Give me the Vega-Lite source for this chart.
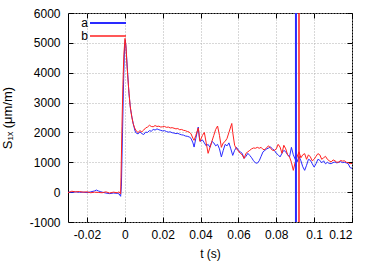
{
  "$schema": "https://vega.github.io/schema/vega-lite/v6.json",
  "width": 284,
  "height": 209,
  "autosize": {"type": "none"},
  "padding": {"left": 68, "top": 13, "right": 22, "bottom": 40},
  "config": {
    "font": "Liberation Sans",
    "view": {"stroke": "#000000", "strokeWidth": 1},
    "axis": {"labelFont": "Liberation Sans", "titleFont": "Liberation Sans", "labelFontSize": 12, "titleFontSize": 12, "labelColor": "#000", "titleColor": "#000", "titleFontWeight": "normal", "domain": false, "tickColor": "#000", "tickSize": -5, "gridColor": "#b0b0b0", "gridDash": [1, 2]},
    "legend": {"labelFont": "Liberation Sans", "labelFontSize": 12, "labelColor": "#000"}
  },
  "datasets": {
    "s": [
      {"t":-0.030,"v":0,"k":"a"},{"t":-0.028,"v":-10,"k":"a"},{"t":-0.026,"v":10,"k":"a"},{"t":-0.024,"v":-5,"k":"a"},{"t":-0.022,"v":0,"k":"a"},{"t":-0.020,"v":-15,"k":"a"},{"t":-0.018,"v":10,"k":"a"},{"t":-0.016,"v":40,"k":"a"},{"t":-0.015,"v":70,"k":"a"},{"t":-0.014,"v":40,"k":"a"},{"t":-0.013,"v":20,"k":"a"},{"t":-0.012,"v":0,"k":"a"},{"t":-0.010,"v":-30,"k":"a"},{"t":-0.008,"v":-50,"k":"a"},{"t":-0.006,"v":-30,"k":"a"},{"t":-0.004,"v":-40,"k":"a"},{"t":-0.003,"v":-60,"k":"a"},{"t":-0.0022,"v":-140,"k":"a"},{"t":-0.0018,"v":200,"k":"a"},{"t":-0.0012,"v":2000,"k":"a"},{"t":-0.0006,"v":3800,"k":"a"},{"t":-0.0001,"v":4900,"k":"a"},{"t":0.0003,"v":5100,"k":"a"},{"t":0.0008,"v":4700,"k":"a"},{"t":0.0015,"v":4000,"k":"a"},{"t":0.0022,"v":3300,"k":"a"},{"t":0.003,"v":2800,"k":"a"},{"t":0.0038,"v":2500,"k":"a"},{"t":0.0046,"v":2250,"k":"a"},{"t":0.0054,"v":2050,"k":"a"},{"t":0.006,"v":1980,"k":"a"},{"t":0.007,"v":1950,"k":"a"},{"t":0.008,"v":2020,"k":"a"},{"t":0.009,"v":1960,"k":"a"},{"t":0.010,"v":1930,"k":"a"},{"t":0.011,"v":2010,"k":"a"},{"t":0.012,"v":2000,"k":"a"},{"t":0.013,"v":2060,"k":"a"},{"t":0.014,"v":2040,"k":"a"},{"t":0.015,"v":2100,"k":"a"},{"t":0.016,"v":2080,"k":"a"},{"t":0.017,"v":2120,"k":"a"},{"t":0.018,"v":2090,"k":"a"},{"t":0.019,"v":2070,"k":"a"},{"t":0.020,"v":2050,"k":"a"},{"t":0.021,"v":2060,"k":"a"},{"t":0.022,"v":2030,"k":"a"},{"t":0.023,"v":2010,"k":"a"},{"t":0.024,"v":2020,"k":"a"},{"t":0.025,"v":1990,"k":"a"},{"t":0.026,"v":1980,"k":"a"},{"t":0.027,"v":1960,"k":"a"},{"t":0.028,"v":1970,"k":"a"},{"t":0.029,"v":1940,"k":"a"},{"t":0.030,"v":1920,"k":"a"},{"t":0.031,"v":1910,"k":"a"},{"t":0.032,"v":1880,"k":"a"},{"t":0.033,"v":1870,"k":"a"},{"t":0.034,"v":1850,"k":"a"},{"t":0.035,"v":1800,"k":"a"},{"t":0.036,"v":1650,"k":"a"},{"t":0.0366,"v":1510,"k":"a"},{"t":0.0375,"v":1800,"k":"a"},{"t":0.0388,"v":2180,"k":"a"},{"t":0.0395,"v":1750,"k":"a"},{"t":0.040,"v":1700,"k":"a"},{"t":0.041,"v":1750,"k":"a"},{"t":0.042,"v":1650,"k":"a"},{"t":0.043,"v":1550,"k":"a"},{"t":0.044,"v":1600,"k":"a"},{"t":0.045,"v":1500,"k":"a"},{"t":0.046,"v":1700,"k":"a"},{"t":0.047,"v":1650,"k":"a"},{"t":0.048,"v":1550,"k":"a"},{"t":0.049,"v":1600,"k":"a"},{"t":0.050,"v":1450,"k":"a"},{"t":0.051,"v":1180,"k":"a"},{"t":0.052,"v":1400,"k":"a"},{"t":0.053,"v":1600,"k":"a"},{"t":0.054,"v":1550,"k":"a"},{"t":0.055,"v":1650,"k":"a"},{"t":0.056,"v":1450,"k":"a"},{"t":0.057,"v":1230,"k":"a"},{"t":0.058,"v":1400,"k":"a"},{"t":0.059,"v":1500,"k":"a"},{"t":0.060,"v":1400,"k":"a"},{"t":0.061,"v":1350,"k":"a"},{"t":0.062,"v":1300,"k":"a"},{"t":0.063,"v":1130,"k":"a"},{"t":0.064,"v":1200,"k":"a"},{"t":0.065,"v":1300,"k":"a"},{"t":0.066,"v":1230,"k":"a"},{"t":0.067,"v":1150,"k":"a"},{"t":0.068,"v":1050,"k":"a"},{"t":0.069,"v":980,"k":"a"},{"t":0.070,"v":970,"k":"a"},{"t":0.071,"v":1050,"k":"a"},{"t":0.072,"v":1200,"k":"a"},{"t":0.073,"v":1350,"k":"a"},{"t":0.074,"v":1400,"k":"a"},{"t":0.075,"v":1450,"k":"a"},{"t":0.076,"v":1480,"k":"a"},{"t":0.077,"v":1510,"k":"a"},{"t":0.078,"v":1450,"k":"a"},{"t":0.079,"v":1400,"k":"a"},{"t":0.080,"v":1300,"k":"a"},{"t":0.081,"v":1250,"k":"a"},{"t":0.082,"v":1180,"k":"a"},{"t":0.083,"v":1300,"k":"a"},{"t":0.084,"v":1400,"k":"a"},{"t":0.085,"v":1350,"k":"a"},{"t":0.086,"v":1250,"k":"a"},{"t":0.087,"v":1180,"k":"a"},{"t":0.088,"v":1500,"k":"a"},{"t":0.089,"v":1250,"k":"a"},{"t":0.090,"v":1100,"k":"a"},{"t":0.091,"v":1010,"k":"a"},{"t":0.092,"v":1200,"k":"a"},{"t":0.093,"v":1050,"k":"a"},{"t":0.094,"v":850,"k":"a"},{"t":0.095,"v":730,"k":"a"},{"t":0.096,"v":900,"k":"a"},{"t":0.097,"v":1100,"k":"a"},{"t":0.098,"v":1067,"k":"a"},{"t":0.099,"v":950,"k":"a"},{"t":0.100,"v":840,"k":"a"},{"t":0.101,"v":950,"k":"a"},{"t":0.102,"v":1100,"k":"a"},{"t":0.103,"v":1067,"k":"a"},{"t":0.104,"v":980,"k":"a"},{"t":0.105,"v":1050,"k":"a"},{"t":0.106,"v":950,"k":"a"},{"t":0.107,"v":1000,"k":"a"},{"t":0.108,"v":960,"k":"a"},{"t":0.109,"v":955,"k":"a"},{"t":0.110,"v":990,"k":"a"},{"t":0.111,"v":1010,"k":"a"},{"t":0.112,"v":980,"k":"a"},{"t":0.113,"v":1000,"k":"a"},{"t":0.114,"v":1020,"k":"a"},{"t":0.115,"v":990,"k":"a"},{"t":0.116,"v":1000,"k":"a"},{"t":0.117,"v":980,"k":"a"},{"t":0.118,"v":950,"k":"a"},{"t":0.119,"v":820,"k":"a"},{"t":0.120,"v":800,"k":"a"},
      {"t":-0.030,"v":-20,"k":"b"},{"t":-0.028,"v":30,"k":"b"},{"t":-0.026,"v":10,"k":"b"},{"t":-0.024,"v":20,"k":"b"},{"t":-0.022,"v":0,"k":"b"},{"t":-0.020,"v":10,"k":"b"},{"t":-0.018,"v":-20,"k":"b"},{"t":-0.016,"v":0,"k":"b"},{"t":-0.014,"v":-10,"k":"b"},{"t":-0.012,"v":-20,"k":"b"},{"t":-0.010,"v":10,"k":"b"},{"t":-0.008,"v":-30,"k":"b"},{"t":-0.006,"v":0,"k":"b"},{"t":-0.004,"v":-20,"k":"b"},{"t":-0.003,"v":10,"k":"b"},{"t":-0.0022,"v":-60,"k":"b"},{"t":-0.002,"v":500,"k":"b"},{"t":-0.0015,"v":2200,"k":"b"},{"t":-0.001,"v":3600,"k":"b"},{"t":-0.0005,"v":4600,"k":"b"},{"t":0.0001,"v":5150,"k":"b"},{"t":0.0006,"v":4900,"k":"b"},{"t":0.0012,"v":4200,"k":"b"},{"t":0.002,"v":3500,"k":"b"},{"t":0.0028,"v":2900,"k":"b"},{"t":0.0036,"v":2550,"k":"b"},{"t":0.0044,"v":2300,"k":"b"},{"t":0.0052,"v":2150,"k":"b"},{"t":0.006,"v":2050,"k":"b"},{"t":0.007,"v":2000,"k":"b"},{"t":0.008,"v":2060,"k":"b"},{"t":0.009,"v":2020,"k":"b"},{"t":0.010,"v":2080,"k":"b"},{"t":0.011,"v":2150,"k":"b"},{"t":0.012,"v":2180,"k":"b"},{"t":0.013,"v":2240,"k":"b"},{"t":0.014,"v":2200,"k":"b"},{"t":0.015,"v":2190,"k":"b"},{"t":0.016,"v":2230,"k":"b"},{"t":0.017,"v":2200,"k":"b"},{"t":0.018,"v":2210,"k":"b"},{"t":0.019,"v":2180,"k":"b"},{"t":0.020,"v":2190,"k":"b"},{"t":0.021,"v":2200,"k":"b"},{"t":0.022,"v":2170,"k":"b"},{"t":0.023,"v":2180,"k":"b"},{"t":0.024,"v":2150,"k":"b"},{"t":0.025,"v":2160,"k":"b"},{"t":0.026,"v":2140,"k":"b"},{"t":0.027,"v":2120,"k":"b"},{"t":0.028,"v":2130,"k":"b"},{"t":0.029,"v":2090,"k":"b"},{"t":0.030,"v":2100,"k":"b"},{"t":0.031,"v":2070,"k":"b"},{"t":0.032,"v":2060,"k":"b"},{"t":0.033,"v":2030,"k":"b"},{"t":0.034,"v":2014,"k":"b"},{"t":0.035,"v":1950,"k":"b"},{"t":0.036,"v":1800,"k":"b"},{"t":0.0366,"v":1735,"k":"b"},{"t":0.0375,"v":1900,"k":"b"},{"t":0.0388,"v":2150,"k":"b"},{"t":0.0397,"v":1700,"k":"b"},{"t":0.041,"v":1900,"k":"b"},{"t":0.042,"v":2000,"k":"b"},{"t":0.043,"v":1650,"k":"b"},{"t":0.044,"v":1300,"k":"b"},{"t":0.045,"v":1500,"k":"b"},{"t":0.046,"v":1700,"k":"b"},{"t":0.047,"v":1900,"k":"b"},{"t":0.048,"v":2100,"k":"b"},{"t":0.049,"v":2215,"k":"b"},{"t":0.050,"v":1900,"k":"b"},{"t":0.051,"v":1500,"k":"b"},{"t":0.052,"v":1650,"k":"b"},{"t":0.053,"v":1700,"k":"b"},{"t":0.054,"v":1800,"k":"b"},{"t":0.055,"v":2000,"k":"b"},{"t":0.0565,"v":2300,"k":"b"},{"t":0.057,"v":2000,"k":"b"},{"t":0.058,"v":1570,"k":"b"},{"t":0.059,"v":1450,"k":"b"},{"t":0.060,"v":1380,"k":"b"},{"t":0.061,"v":1300,"k":"b"},{"t":0.062,"v":1250,"k":"b"},{"t":0.063,"v":1130,"k":"b"},{"t":0.064,"v":1300,"k":"b"},{"t":0.065,"v":1350,"k":"b"},{"t":0.066,"v":1400,"k":"b"},{"t":0.067,"v":1450,"k":"b"},{"t":0.068,"v":1480,"k":"b"},{"t":0.069,"v":1470,"k":"b"},{"t":0.070,"v":1500,"k":"b"},{"t":0.071,"v":1470,"k":"b"},{"t":0.072,"v":1500,"k":"b"},{"t":0.073,"v":1430,"k":"b"},{"t":0.074,"v":1425,"k":"b"},{"t":0.075,"v":1500,"k":"b"},{"t":0.076,"v":1550,"k":"b"},{"t":0.077,"v":1470,"k":"b"},{"t":0.078,"v":1400,"k":"b"},{"t":0.079,"v":1400,"k":"b"},{"t":0.080,"v":1450,"k":"b"},{"t":0.081,"v":1600,"k":"b"},{"t":0.082,"v":1510,"k":"b"},{"t":0.083,"v":1300,"k":"b"},{"t":0.084,"v":1570,"k":"b"},{"t":0.085,"v":1450,"k":"b"},{"t":0.086,"v":1250,"k":"b"},{"t":0.087,"v":1180,"k":"b"},{"t":0.088,"v":1000,"k":"b"},{"t":0.089,"v":730,"k":"b"},{"t":0.090,"v":1000,"k":"b"},{"t":0.091,"v":1180,"k":"b"},{"t":0.092,"v":1350,"k":"b"},{"t":0.093,"v":1150,"k":"b"},{"t":0.094,"v":1250,"k":"b"},{"t":0.095,"v":1290,"k":"b"},{"t":0.096,"v":1100,"k":"b"},{"t":0.097,"v":1250,"k":"b"},{"t":0.098,"v":1180,"k":"b"},{"t":0.099,"v":1050,"k":"b"},{"t":0.100,"v":1100,"k":"b"},{"t":0.101,"v":1200,"k":"b"},{"t":0.102,"v":1290,"k":"b"},{"t":0.103,"v":1250,"k":"b"},{"t":0.104,"v":1100,"k":"b"},{"t":0.105,"v":1150,"k":"b"},{"t":0.106,"v":1200,"k":"b"},{"t":0.107,"v":1100,"k":"b"},{"t":0.108,"v":1050,"k":"b"},{"t":0.109,"v":1010,"k":"b"},{"t":0.110,"v":1080,"k":"b"},{"t":0.111,"v":1050,"k":"b"},{"t":0.112,"v":1000,"k":"b"},{"t":0.113,"v":1010,"k":"b"},{"t":0.114,"v":1060,"k":"b"},{"t":0.115,"v":1040,"k":"b"},{"t":0.116,"v":1050,"k":"b"},{"t":0.117,"v":1000,"k":"b"},{"t":0.118,"v":990,"k":"b"},{"t":0.119,"v":955,"k":"b"},{"t":0.120,"v":960,"k":"b"}
    ],
    "vl": [{"t": 0.0904, "k": "a"}, {"t": 0.092, "k": "b"}]
  },
  "layer": [
    {
      "data": {"name": "s"},
      "mark": {"type": "line", "strokeWidth": 1, "clip": true},
      "encoding": {
        "x": {"field": "t", "type": "quantitative", "scale": {"domain": [-0.03, 0.12], "nice": false, "zero": false},
              "axis": {"title": "t (s)", "values": [-0.02, 0, 0.02, 0.04, 0.06, 0.08, 0.1, 0.12], "labelExpr": "'' + datum.value", "labelPadding": 12, "titleY": 26, "grid": true}},
        "y": {"field": "v", "type": "quantitative", "scale": {"domain": [-1000, 6000], "nice": false, "zero": false},
              "axis": {"title": "S₁ₓ (μm/m)", "titleFontSize": 13, "values": [-1000, 0, 1000, 2000, 3000, 4000, 5000, 6000], "labelExpr": "'' + datum.value", "labelPadding": 13, "titleX": -54, "grid": true}},
        "color": {"field": "k", "type": "nominal", "scale": {"domain": ["a", "b"], "range": ["#2a2aff", "#ff2020"]},
                  "legend": {"title": null, "orient": "none", "legendX": 34, "legendY": 4, "symbolType": "M-6,0H6", "symbolSize": 36, "symbolStrokeWidth": 1.2, "labelAlign": "right", "labelOffset": -26, "labelFontSize": 12, "rowPadding": 1}}
      }
    },
    {
      "data": {"name": "vl"},
      "mark": {"type": "rule"},
      "encoding": {
        "x": {"field": "t", "type": "quantitative", "axis": {"orient": "top", "title": null, "labels": false, "grid": false, "values": [-0.02, 0, 0.02, 0.04, 0.06, 0.08, 0.1, 0.12]}},
        "y": {"datum": -1000, "type": "quantitative", "axis": {"orient": "right", "title": null, "labels": false, "grid": false, "values": [-1000, 0, 1000, 2000, 3000, 4000, 5000, 6000]}},
        "y2": {"datum": 6000},
        "color": {"field": "k", "type": "nominal", "legend": null},
        "strokeWidth": {"field": "k", "type": "nominal", "scale": {"domain": ["a", "b"], "range": [2, 1.5]}, "legend": null}
      }
    }
  ],
  "resolve": {"axis": {"x": "independent", "y": "independent"}}
}
